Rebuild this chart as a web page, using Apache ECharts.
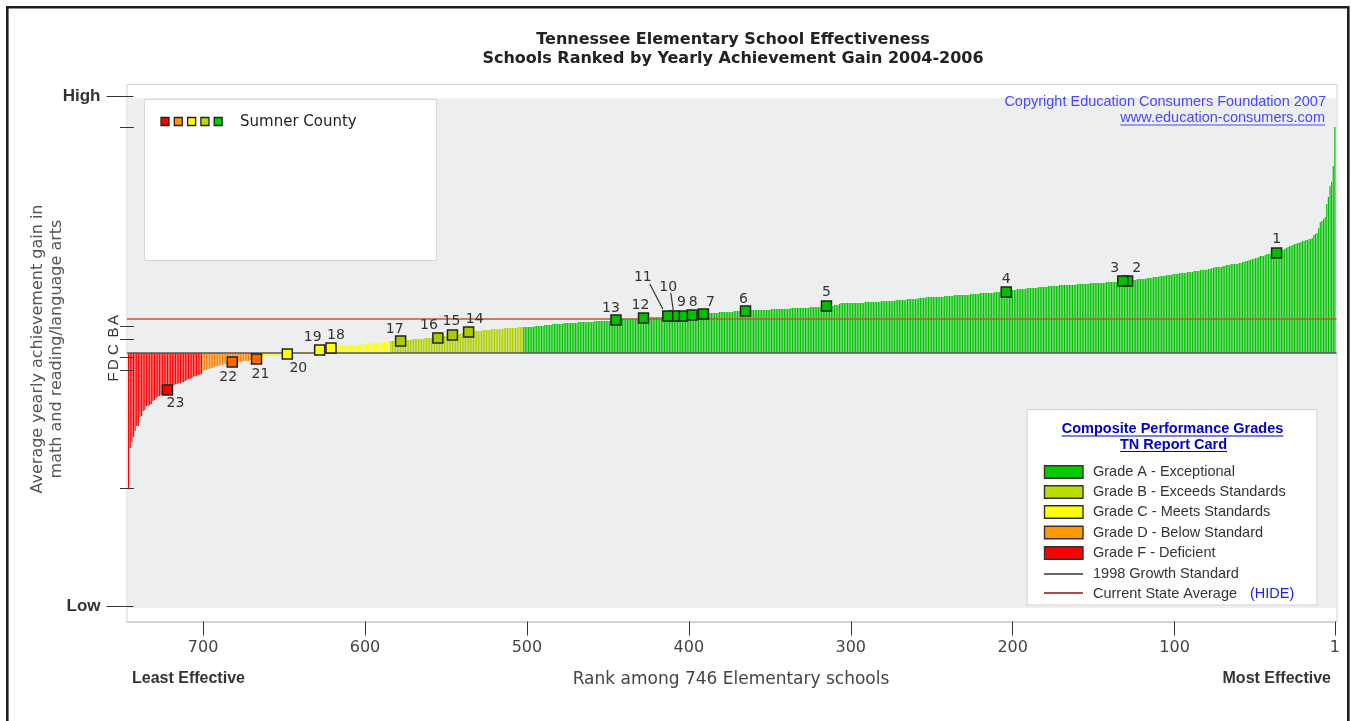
<!DOCTYPE html>
<html><head><meta charset="utf-8">
<script src="https://cdn.jsdelivr.net/npm/echarts@6/dist/echarts.min.js"></script>
<style>html,body{margin:0;padding:0;background:#fff;}#c{width:1351px;height:721px;}</style>
</head><body><div id="c"></div>
<script>
// ---------------- DATA ----------------
// Yearly achievement gain (relative units, 0 = 1998 growth standard), rank 1 .. 746
const gains = [
226,187,171,167, 156,149,136,134, 132,131,125,120, 119,118,115,114, 114,113,113,112,
112,111,110,110, 109,109,108,107, 107,106,105,104, 103,102,101,101, 100,100,100,100,
99,99,99,98, 97,97,97,96, 95,95,94,94, 93,93,92,92, 91,91,90,90,
89,89,89,89, 89,88,88,88, 87,87,86,86, 86,86,86,85, 85,84,84,83,
83,83,83,83, 82,82,82,82, 81,81,81,81, 80,80,80,80, 80,79,79,79,
79,78,78,78, 78,77,77,77, 77,76,76,76, 76,75,75,75, 75,74,74,74,
74,74,74,73, 73,73,73,72, 72,72,72,72, 72,72,72,71, 71,71,71,71,
71,71,70,70, 70,70,70,70, 70,70,70,70, 69,69,69,69, 69,69,69,69,
68,68,68,68, 68,68,68,68, 68,68,68,67, 67,67,67,67, 67,67,66,66,
66,66,66,66, 65,65,65,65, 65,65,65,64, 64,64,64,64, 64,63,63,63,
63,62,62,61, 61,61,61,61, 61,61,61,60, 60,60,60,60, 60,60,60,60,
59,59,59,59, 59,59,58,58, 58,58,58,58, 58,58,58,58, 57,57,57,57,
57,57,56,56, 56,56,56,56, 56,56,56,56, 56,55,55,55, 55,55,54,54,
54,54,54,54, 54,53,53,53, 53,53,53,53, 52,52,52,52, 52,52,52,52,
52,51,51,51, 51,51,51,51, 51,51,51,50, 50,50,50,50, 50,50,50,50,
50,50,50,50, 50,50,49,48, 48,48,47,47, 47,47,47,47, 47,47,46,46,
46,46,46,46, 46,45,45,45, 45,45,45,45, 45,45,45,45, 45,44,44,44,
44,44,44,44, 44,44,44,44, 44,43,43,43, 43,43,43,43, 43,43,43,43,
43,42,42,42, 42,42,42,42, 42,42,42,42, 41,41,41,41, 41,41,41,41,
41,40,40,40, 40,40,40,40, 40,39,39,39, 39,39,39,38, 38,38,38,38,
38,38,37,37, 37,37,37,37, 37,37,37,37, 37,37,37,36, 36,36,36,36,
36,36,36,36, 36,35,35,35, 35,35,35,34, 34,34,34,34, 34,34,34,34,
34,33,33,33, 33,33,33,33, 32,32,32,32, 32,32,32,32, 32,32,31,31,
31,31,31,31, 31,31,31,31, 30,30,30,30, 30,30,30,30, 30,29,29,29,
29,29,29,29, 28,28,28,28, 28,27,27,27, 27,27,27,26, 26,26,26,26,
26,26,
26,26,26,25, 25,25,25,25, 25,25,25,25, 24,24,24,24, 24,24,24,24,
23,23,23,23, 23,22,22,22, 22,22,21,21, 21,21,20,20, 20,20,19,19,
19,19,19,19, 18,18,18,17, 17,17,16,16, 16,16,15,15, 15,15,15,15,
15,14,14,14, 14,14,14,14, 14,13,13,13, 13,13,12,12, 12,12,12,12,
12,12,
12,11,11,11, 11,10,10,10, 10,10,10,10, 9,9,9,9, 9,9,8,8,
8,8,8,8, 8,8,8,8, 8,8,8,8, 7,6,5,5, 5,4,4,4,
3,3,3,3, 2,2,2,1, 1,1,1,1, 1,1,1,1, 0,-1,-1,-1,
-1,-1,-1,-1, -2,-2,-2,-2, -2,-3,-3,-3, -3,-3,-3,-3,
-3,-4,-4,-4,-4,
-5,-6,-6,-7, -7,-7,-8,-8, -8,-8,-9,-9, -9,-9,-9,-10, -10,-10,-10,-11,
-11,-11,-12,-12, -13,-13,-13,-14, -15,-15,-16,-16,
-17,-17,-18,
-21,-22,-22,-23, -23,-24,-25,-26, -26,-27,-28,-29, -29,-30,-30,-31, -31,-32,-33,-34,
-35,-37,-38,-39, -41,-42,-43,-44, -45,-47,-48,-51, -52,-53,-53,-57, -58,-63,-64,-73,
-73,-78,-84,-89, -95,-135
];
// Grade bands by rank (worst rank in each band)
const gradeNames = ['A','B','C','D','F'];
const gradeWorstRank = [502, 584, 665, 700, 746];
const gradeLegendText = ['Grade A - Exceptional','Grade B - Exceeds Standards','Grade C - Meets Standards','Grade D - Below Standard','Grade F - Deficient'];
// Reference levels
const stateAverage = 34;
const growthStandard = 0;
const gradeTickValues = [27, 14, -4, -17];
const gradeLetterValues = [33, 20.5, 3.5, -11.5, -24];
const gradeLetters = ['A','B','C','D','F'];
const yHigh = 256.5, yLow = -253.5;
const rankTicks = [1,100,200,300,400,500,600,700];
// Sumner County schools
const schoolLabels = ['1','2','3','4','5','6','7','8','9','10','11','12','13','14','15','16','17','18','19','20','21','22','23'];
const schoolRanks  = [37,129,132,204,315,365,391,398,404,409,413,428,445,536,546,555,578,621,628,648,667,682,722];
const schoolGains  = [100,72,72,61,47,42,39,38,37,37,37,35,33,21,18,15,12,5,3,-1,-6,-9,-37];
const schoolGrades = ['A','A','A','A','A','A','A','A','A','A','A','A','A','B','B','B','B','C','C','C','D','D','F'];

// ---------------- STYLE ----------------
const barColor    = {A:'#00C400', B:'#B0CE00', C:'#FFFF00', D:'#FF8000', F:'#FF0000'};
const markerColor = {A:'#00C000', B:'#AACB00', C:'#FFFF00', D:'#FF6A00', F:'#FF0000'};
const legendColor = {A:'#00CC00', B:'#BBDD00', C:'#FFFF00', D:'#FF9900', F:'#FF0000'};
const labelOffsets = [[0,-14],[9,-13],[-8,-13],[0,-13],[0,-14],[-2,-12],[7,-12],[1,-13],[-1,-14],[-6,-29],[-25,-39],[-3,-13],[-5,-12],[6,-13],[-1,-14],[-9,-13],[-6,-12],[5,-13],[-7,-13],[11,14],[4,15],[-4,15],[8,13]];
const leaders = [{i:9, o:[-3.5,-23,-1,-6]}, {i:10, o:[-18,-32,-5,-7]}];

function gradeOfRank(r){ for (let k=0;k<gradeWorstRank.length;k++){ if (r<=gradeWorstRank[k]) return gradeNames[k]; } return 'F'; }

const mctx = document.createElement('canvas').getContext('2d');
function tw(text, font){ mctx.font = font; return mctx.measureText(text).width; }

const FD = '"DejaVu Sans"', FL = '"Liberation Sans"';
const g = [];
// outer frame
g.push({type:'rect', z:0, shape:{x:7.3,y:7.3,width:1341,height:740}, style:{fill:'#fff', stroke:'#1e1e1e', lineWidth:2.6}});
// plot box and gray field
g.push({type:'rect', z:0, shape:{x:127,y:84.5,width:1210,height:537}, style:{fill:'#fff', stroke:'#d4d4d4', lineWidth:1}});
g.push({type:'rect', z:0, shape:{x:127.5,y:98,width:1208.5,height:510}, style:{fill:'#ECEEF0'}});
// titles
g.push({type:'text', z:1, x:733, y:40, style:{text:'Tennessee Elementary School Effectiveness', font:'bold 16px '+FD, fill:'#222', textAlign:'center', textVerticalAlign:'middle'}});
g.push({type:'text', z:1, x:733, y:58.5, style:{text:'Schools Ranked by Yearly Achievement Gain 2004-2006', font:'bold 16px '+FD, fill:'#222', textAlign:'center', textVerticalAlign:'middle'}});
// y axis title
g.push({type:'text', z:1, x:38, y:349, rotation:Math.PI/2, style:{text:'Average yearly achievement gain in', font:'16px '+FD, fill:'#555', textAlign:'center', textVerticalAlign:'middle'}});
g.push({type:'text', z:1, x:57, y:349, rotation:Math.PI/2, style:{text:'math and reading/language arts', font:'16px '+FD, fill:'#555', textAlign:'center', textVerticalAlign:'middle'}});
// x axis texts
g.push({type:'text', z:1, x:132, y:679, style:{text:'Least Effective', font:'bold 16px '+FL, fill:'#333', textAlign:'left', textVerticalAlign:'middle'}});
g.push({type:'text', z:1, x:1331, y:679, style:{text:'Most Effective', font:'bold 16px '+FL, fill:'#333', textAlign:'right', textVerticalAlign:'middle'}});
g.push({type:'text', z:1, x:731, y:680, style:{text:'Rank among 746 Elementary schools', font:'17px '+FD, fill:'#444', textAlign:'center', textVerticalAlign:'middle'}});
// copyright
const cf = '14.5px '+FL;
g.push({type:'text', z:1, x:1326, y:102, style:{text:'Copyright Education Consumers Foundation 2007', font:cf, fill:'#4848FF', textAlign:'right', textVerticalAlign:'middle'}});
const wwwT = 'www.education-consumers.com', wwwW = tw(wwwT, cf);
g.push({type:'text', z:1, x:1325, y:118, style:{text:wwwT, font:cf, fill:'#4848FF', textAlign:'right', textVerticalAlign:'middle'}});
g.push({type:'line', z:1, shape:{x1:1325-wwwW, y1:125, x2:1325, y2:125}, style:{stroke:'#4848FF', lineWidth:1}});
// Sumner County legend
g.push({type:'rect', z:1, shape:{x:144.5,y:99.5,width:292,height:161}, style:{fill:'#fff', stroke:'#d8d8d8', lineWidth:1}});
['F','D','C','B','A'].forEach((gr,k)=>{
  g.push({type:'rect', z:2, shape:{x:161+k*13.3,y:117.5,width:8,height:8}, style:{fill:legendColor[gr], stroke:'#222', lineWidth:1.3}});
});
g.push({type:'text', z:2, x:240, y:122, style:{text:'Sumner County', font:'15px '+FD, fill:'#222', textAlign:'left', textVerticalAlign:'middle'}});
// Grades legend
g.push({type:'rect', z:1, shape:{x:1027,y:409.5,width:290,height:195.5}, style:{fill:'#fff', stroke:'#d0d0d0', lineWidth:1}});
const lf = 'bold 14.5px '+FL;
[['Composite Performance Grades',1172.5,429],['TN Report Card',1173.5,444.5]].forEach(t=>{
  const w = tw(t[0], lf);
  g.push({type:'text', z:2, x:t[1], y:t[2], style:{text:t[0], font:lf, fill:'#0000CC', textAlign:'center', textVerticalAlign:'middle'}});
  g.push({type:'line', z:2, shape:{x1:t[1]-w/2, y1:t[2]+7, x2:t[1]+w/2, y2:t[2]+7}, style:{stroke:'#0000CC', lineWidth:1.2}});
});
const itemY = [472, 492, 512, 532.5, 553];
gradeNames.forEach((gr,k)=>{
  g.push({type:'rect', z:2, shape:{x:1044.5,y:itemY[k]-6.2,width:38.5,height:12.4}, style:{fill:legendColor[gr], stroke:'#333', lineWidth:1.4}});
  g.push({type:'text', z:2, x:1093, y:itemY[k], style:{text:gradeLegendText[k], font:'14.5px '+FL, fill:'#333', textAlign:'left', textVerticalAlign:'middle'}});
});
g.push({type:'line', z:2, shape:{x1:1044,y1:574,x2:1083,y2:574}, style:{stroke:'#333', lineWidth:1.3}});
g.push({type:'text', z:2, x:1093, y:573.5, style:{text:'1998 Growth Standard', font:'14.5px '+FL, fill:'#333', textAlign:'left', textVerticalAlign:'middle'}});
g.push({type:'line', z:2, shape:{x1:1044,y1:593,x2:1083,y2:593}, style:{stroke:'#8B1010', lineWidth:1.3}});
g.push({type:'text', z:2, x:1093, y:594, style:{text:'Current State Average', font:'14.5px '+FL, fill:'#333', textAlign:'left', textVerticalAlign:'middle'}});
g.push({type:'text', z:2, x:1250, y:594, style:{text:'(HIDE)', font:'14.5px '+FL, fill:'#2020EE', textAlign:'left', textVerticalAlign:'middle'}});

const barData = gains.map((v,i)=>[i+1, v]);
const schoolData = schoolRanks.map((r,i)=>({
  name: schoolLabels[i], value:[r, schoolGains[i]],
  itemStyle:{color: markerColor[schoolGrades[i]]},
  label:{offset: labelOffsets[i]}
}));
const gMax = Math.max(...gains), gMin = Math.min(...gains);
const minorTicks = [gMax].concat(gradeTickValues, [gMin]);
const letterMap = {}; gradeLetterValues.forEach((v,k)=>{ letterMap[v] = gradeLetters[k]; });

const chart = echarts.init(document.getElementById('c'), null, {renderer:'canvas'});
chart.setOption({
  animation:false,
  backgroundColor:'#fff',
  graphic:{elements:g},
  grid:{left:127, right:14.5, top:96.5, bottom:114.5, containLabel:false},
  xAxis:{type:'value', inverse:true, min:0, max:747, offset:15, z:3,
    axisLine:{show:true, onZero:false, lineStyle:{color:'#cdcdcd', width:1.5}},
    axisTick:{show:true, customValues:rankTicks, length:14, lineStyle:{color:'#333', width:1}},
    axisLabel:{customValues:rankTicks, margin:18, fontFamily:'DejaVu Sans', fontSize:16, color:'#444'},
    splitLine:{show:false}},
  yAxis:[
    {type:'value', min:yLow, max:yHigh, position:'left', offset:-6.5, z:3,
      axisLine:{show:false, onZero:false},
      axisTick:{show:true, customValues:[yLow,yHigh], length:27, lineStyle:{color:'#333', width:1}},
      axisLabel:{customValues:[yLow,yHigh], formatter:v=> v>0?'High':'Low', margin:33, fontFamily:'Liberation Sans', fontWeight:'bold', fontSize:17, color:'#333'},
      splitLine:{show:false}},
    {type:'value', min:yLow, max:yHigh, position:'left', offset:-7, z:3,
      axisLine:{show:false, onZero:false},
      axisTick:{show:true, customValues:minorTicks, length:14, lineStyle:{color:'#333', width:1}},
      axisLabel:{show:false}, splitLine:{show:false}},
    {type:'value', min:yLow, max:yHigh, position:'left', offset:-7, z:3,
      axisLine:{show:false, onZero:false}, axisTick:{show:false},
      axisLabel:{customValues:gradeLetterValues, formatter:v=>letterMap[v]||'', rotate:90, margin:13, fontFamily:'Liberation Sans', fontSize:15, color:'#333'},
      splitLine:{show:false}}
  ],
  series:[
    {type:'bar', data:barData, barWidth:1.2, z:2, silent:true,
      itemStyle:{color:p=>barColor[gradeOfRank(p.data[0])]},
      markLine:{silent:true, symbol:'none', label:{show:false}, animation:false,
        data:[{yAxis:stateAverage, lineStyle:{color:'#B85A32', width:1.5, type:'solid'}},
              {yAxis:growthStandard, lineStyle:{color:'#555', width:1.5, type:'solid'}}]}},
    {type:'custom', z:4, silent:true,
      data: leaders.map(l=>[schoolRanks[l.i], schoolGains[l.i]]),
      renderItem:(params, api)=>{
        const p = api.coord([api.value(0), api.value(1)]);
        const o = leaders[params.dataIndex].o;
        return {type:'line', shape:{x1:p[0]+o[0], y1:p[1]+o[1], x2:p[0]+o[2], y2:p[1]+o[3]}, style:{stroke:'#333', lineWidth:1.2}};
      }},
    {type:'scatter', z:5, silent:true, symbol:'rect', symbolSize:10, data:schoolData,
      itemStyle:{borderColor:'#222', borderWidth:1.5, opacity:1},
      label:{show:true, position:'inside', formatter:'{b}', color:'#333', fontFamily:'DejaVu Sans', fontSize:14}}
  ]
});
</script></body></html>
